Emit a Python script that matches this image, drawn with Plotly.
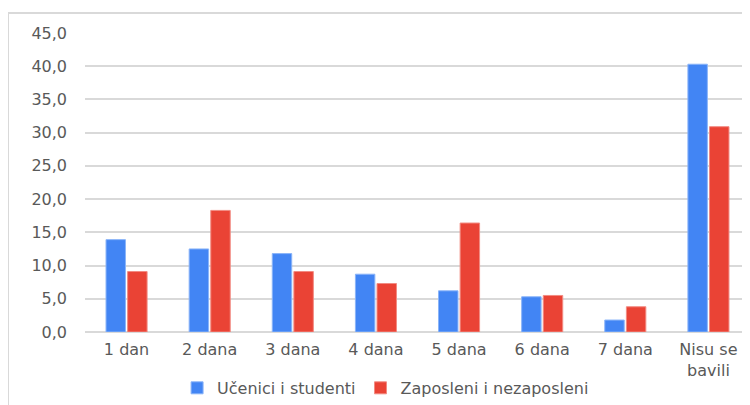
import plotly.graph_objects as go

categories = ["1 dan", "2 dana", "3 dana", "4 dana", "5 dana", "6 dana", "7 dana", "Nisu se<br>bavili"]
ucenici = [13.9, 12.5, 11.8, 8.7, 6.2, 5.3, 1.8, 40.3]
zaposleni = [9.1, 18.3, 9.1, 7.3, 16.4, 5.5, 3.8, 30.9]
series_names = ["Učenici i studenti", "Zaposleni i nezaposleni"]
y_ticks = [0, 5, 10, 15, 20, 25, 30, 35, 40, 45]

FONT = "DejaVu Sans"
TXT = "#595959"
FS = 16

fig = go.Figure()
fig.add_trace(go.Bar(x=categories, y=ucenici, name=series_names[0],
                     marker=dict(color="#4285F4", line=dict(color="#8AB4F8", width=1))))
fig.add_trace(go.Bar(x=categories, y=zaposleni, name=series_names[1],
                     marker=dict(color="#EA4335", line=dict(color="#F28B82", width=1))))

# chart frame (top and left edges visible)
fig.add_shape(type="line", xref="paper", yref="paper", x0=-0.1158, x1=1.02, y0=1.0669, y1=1.0669,
              line=dict(color="#d9d9d9", width=2))
fig.add_shape(type="line", xref="paper", yref="paper", x0=-0.1158, x1=-0.1158, y0=1.0669, y1=-0.35,
              line=dict(color="#d9d9d9", width=2))

fig.update_layout(
    width=742, height=397,
    margin=dict(l=77, r=0, t=25, b=73, autoexpand=False),
    paper_bgcolor="white", plot_bgcolor="white",
    separators=",.",
    barmode="group", bargap=0.48, bargroupgap=0.1,
    font=dict(family=FONT, size=FS, color=TXT),
    showlegend=True,
    legend=dict(orientation="h", x=0.452, xanchor="center", y=-0.187, yanchor="middle",
                font=dict(family=FONT, size=FS, color=TXT), itemwidth=30,
                bgcolor="rgba(0,0,0,0)"),
)
fig.update_yaxes(range=[0, 45], tickvals=y_ticks, tickformat=".1f",
                 showgrid=True, gridcolor="#d9d9d9", gridwidth=1.5,
                 zeroline=True, zerolinecolor="#d9d9d9", zerolinewidth=1.5,
                 showline=False, ticks="", ticklabelstandoff=17,
                 tickfont=dict(family=FONT, size=FS, color=TXT))
fig.update_xaxes(showgrid=False, showline=False, ticks="", ticklabelstandoff=6,
                 tickfont=dict(family=FONT, size=FS, color=TXT))

fig.write_html("out.html")
